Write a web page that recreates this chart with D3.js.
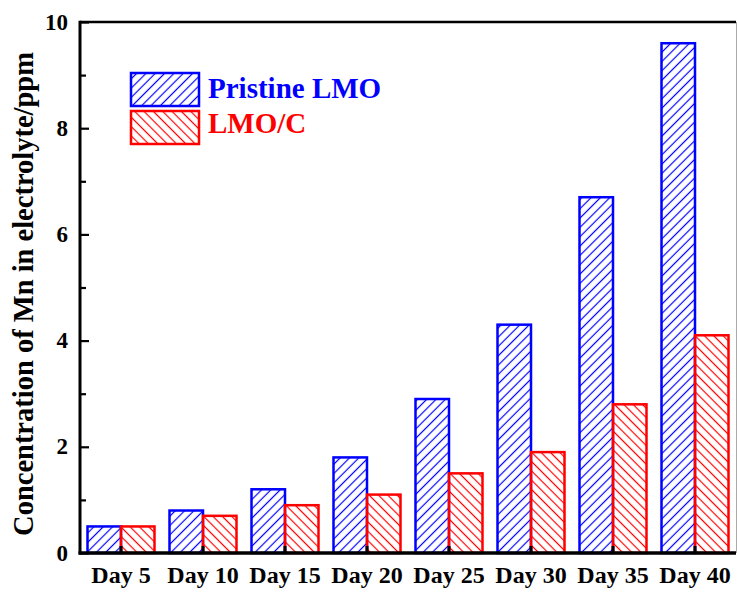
<!DOCTYPE html>
<html><head><meta charset="utf-8">
<script src="https://cdn.jsdelivr.net/npm/d3@7"></script>
<style>body{margin:0;background:#fff}svg{display:block}text{font-family:"Liberation Serif","Times New Roman",serif;font-weight:bold}</style>
</head><body>
<script>
const categories = ["Day 5","Day 10","Day 15","Day 20","Day 25","Day 30","Day 35","Day 40"];
const pristineLMO = [0.5,0.8,1.2,1.8,2.9,4.3,6.7,9.6];
const lmoC = [0.5,0.7,0.9,1.1,1.5,1.9,2.8,4.1];
const seriesNames = ["Pristine LMO","LMO/C"];
const yTicks = [0,2,4,6,8,10];
const yMinorTicks = [1,3,5,7,9];

const W=737,H=592;
const m={l:80,r:1,t:22,b:39};
const svg=d3.select("body").append("svg").attr("width",W).attr("height",H);
const defs=svg.append("defs");
function hatch(id,color,dir){
  const p=defs.append("pattern").attr("id",id).attr("patternUnits","userSpaceOnUse")
    .attr("width",6.6).attr("height",6.6).attr("patternTransform","rotate("+(dir>0?45:-45)+")");
  p.append("line").attr("x1",3.3).attr("y1",-1).attr("x2",3.3).attr("y2",7.6).attr("stroke",color).attr("stroke-width",1.2);
}
hatch("hb","#0000ff",1);
hatch("hr","#ff0000",-1);

const x=d3.scaleBand().domain(categories).range([m.l,W-m.r]).paddingInner(0).paddingOuter(0);
const y=d3.scaleLinear().domain([0,10]).range([H-m.b,m.t]);
const barW=33.5;
const series=[{name:seriesNames[0],vals:pristineLMO,color:"#0000ff",fill:"url(#hb)",off:-barW},
              {name:seriesNames[1],vals:lmoC,color:"#ff0000",fill:"url(#hr)",off:0}];
series.forEach(s=>{
  svg.append("g").selectAll("rect").data(categories).join("rect")
    .attr("x",(d)=>x(d)+x.bandwidth()/2+s.off)
    .attr("y",(d,i)=>y(s.vals[i]))
    .attr("width",barW)
    .attr("height",(d,i)=>y(0)-y(s.vals[i]))
    .attr("fill",s.fill).attr("stroke",s.color).attr("stroke-width",2.5);
});

// frame
svg.append("line").attr("x1",m.l).attr("x2",W-m.r).attr("y1",m.t).attr("y2",m.t).attr("stroke","#000").attr("stroke-width",2.5);
svg.append("line").attr("x1",W-m.r+0.5).attr("x2",W-m.r+0.5).attr("y1",m.t).attr("y2",H-m.b).attr("stroke","#aaa").attr("stroke-width",1);

// y axis
const ya=svg.append("g").attr("transform",`translate(${m.l},0)`)
  .call(d3.axisRight(y).tickValues(yTicks).tickSize(9).tickFormat(""));
ya.select(".domain").remove();
ya.selectAll("line").attr("stroke","#000").attr("stroke-width",2.2);
const ym=svg.append("g").attr("transform",`translate(${m.l},0)`)
  .call(d3.axisRight(y).tickValues(yMinorTicks).tickSize(6).tickFormat(""));
ym.select(".domain").remove();
ym.selectAll("line").attr("stroke","#000").attr("stroke-width",2.2);
svg.append("g").selectAll("text").data(yTicks).join("text")
  .attr("x",68).attr("y",d=>y(d)).attr("dy","0.33em").attr("text-anchor","end")
  .attr("font-size",23).text(d=>d);
svg.append("line").attr("x1",m.l).attr("x2",m.l).attr("y1",m.t-1.25).attr("y2",H-m.b+1.5).attr("stroke","#000").attr("stroke-width",3);

// x axis
const xa=svg.append("g").attr("transform",`translate(0,${H-m.b})`)
  .call(d3.axisTop(x).tickSize(7).tickFormat(""));
xa.select(".domain").remove();
xa.selectAll("line").attr("stroke","#000").attr("stroke-width",3);
svg.append("line").attr("x1",m.l-1.5).attr("x2",W-m.r).attr("y1",H-m.b).attr("y2",H-m.b).attr("stroke","#000").attr("stroke-width",3.5);
svg.append("g").selectAll("text").data(categories).join("text")
  .attr("x",d=>x(d)+x.bandwidth()/2).attr("y",583).attr("text-anchor","middle")
  .attr("font-size",24).text(d=>d);

// y title
svg.append("text").attr("transform","translate(33,294) rotate(-90)").attr("text-anchor","middle")
  .attr("font-size",28.5).text("Concentration of Mn in electrolyte/ppm");

// legend
const lg=[{y:73,fill:"url(#hb)",c:"#0000ff",t:seriesNames[0],by:98},{y:111,fill:"url(#hr)",c:"#ff0000",t:seriesNames[1],by:133}];
lg.forEach(l=>{
  svg.append("rect").attr("x",131).attr("y",l.y).attr("width",68).attr("height",33)
    .attr("fill",l.fill).attr("stroke",l.c).attr("stroke-width",2.5);
  svg.append("text").attr("x",208).attr("y",l.by).attr("font-size",29).attr("fill",l.c).text(l.t);
});
</script>
</body></html>
